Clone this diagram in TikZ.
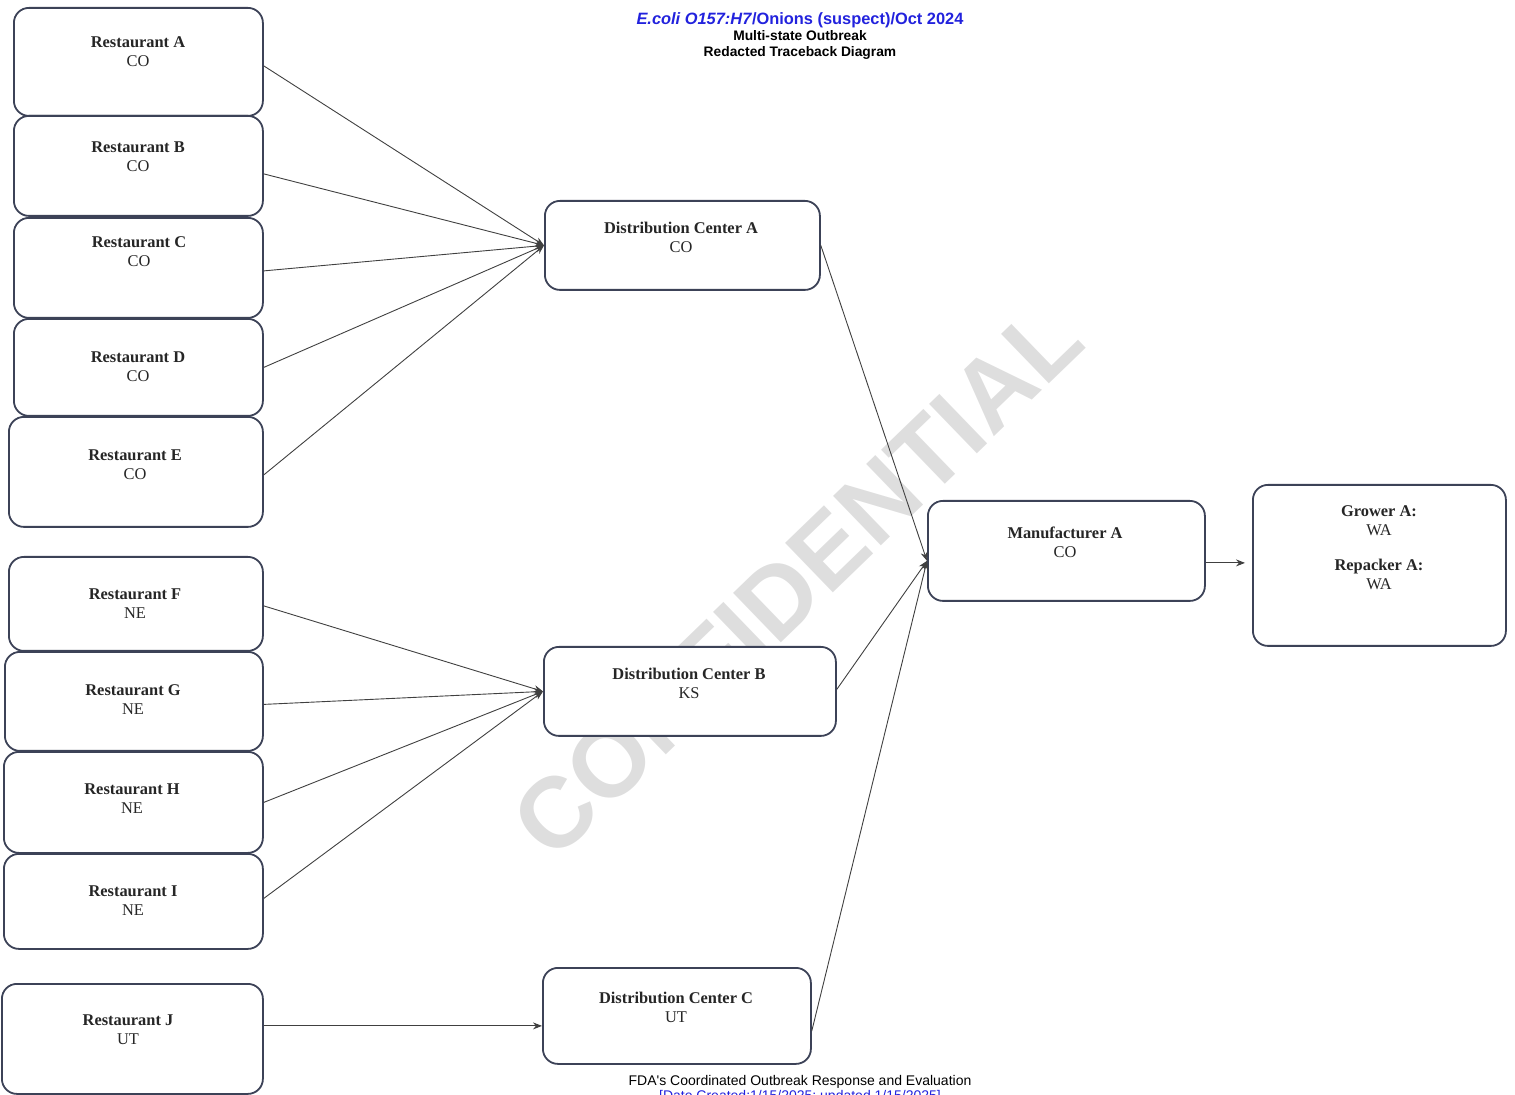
\documentclass[tikz,border=0pt]{standalone}
\usepackage{fontspec}
\setmainfont{Liberation Serif}
\newfontfamily\arialf{Liberation Sans}
\usetikzlibrary{arrows.meta,calc}
\definecolor{boxc}{HTML}{3C4257}
\definecolor{titleblue}{HTML}{2222DD}
\definecolor{wmgray}{HTML}{DEDEDE}
\tikzset{
  box/.style={draw=boxc, line width=0.9pt, rounded corners=7.5pt, fill=white, inner sep=0pt, anchor=north west},
  lbl/.style={font=\fontsize{8.2}{9.5}\selectfont, align=center, anchor=north, inner sep=0pt, text=black!85},
  conn/.style={draw=black!75, line width=0.45pt, -{Stealth[length=4.5pt,width=3.5pt]}},
  hdr/.style={font=\arialf\bfseries\fontsize{8.2}{9}\selectfont, anchor=base, inner sep=0pt},
  ftr/.style={font=\arialf\fontsize{7}{8}\selectfont, anchor=base, inner sep=0pt},
}
\newcommand\bx[6]{\node[box, minimum width={(#4-#2)*0.5pt}, minimum height={(#5-#3)*0.5pt}] (#1) at (#2,#3) {#6};}
\begin{document}
\begin{tikzpicture}[x=0.5pt,y=-0.5pt]
\useasboundingbox (0,0) rectangle (1515,1095);
% watermark
\node[font=\arialf\bfseries\fontsize{50}{50}\selectfont, text=wmgray, rotate=44, inner sep=0pt] (wmk) at (797,580) {CONFIDENTIAL};
% boxes
\bx{rA}{13}{7}{262}{115}{}
\bx{rB}{13}{115}{262}{215}{}
\bx{rC}{13}{217}{262}{317}{}
\bx{rD}{13}{318}{262}{415}{}
\bx{rE}{8}{416}{262}{526}{}
\bx{rF}{8}{556}{262}{650}{}
\bx{rG}{4}{651}{262}{750}{}
\bx{rH}{3}{751}{262}{852}{}
\bx{rI}{3}{853}{262}{948}{}
\bx{rJ}{1}{983}{262}{1093}{}
\bx{dcA}{544}{200}{819}{289}{}
\bx{dcB}{543}{646}{835}{735}{}
\bx{dcC}{542}{967}{810}{1063}{}
\bx{mfr}{927}{500}{1204}{600}{}
\bx{gr}{1252}{484}{1505}{645}{}
% labels
\node[lbl] (tA) at (138,36.5) {\textbf{Restaurant A}\\CO};
\node[lbl] (tB) at (138,141.5) {\textbf{Restaurant B}\\CO};
\node[lbl] (tC) at (139,236.5) {\textbf{Restaurant C}\\CO};
\node[lbl] (tD) at (138,351.5) {\textbf{Restaurant D}\\CO};
\node[lbl] (tE) at (135,449.5) {\textbf{Restaurant E}\\CO};
\node[lbl] (tF) at (135,588.5) {\textbf{Restaurant F}\\NE};
\node[lbl] (tG) at (133,684.5) {\textbf{Restaurant G}\\NE};
\node[lbl] (tH) at (132,783.5) {\textbf{Restaurant H}\\NE};
\node[lbl] (tI) at (133,885.5) {\textbf{Restaurant I}\\NE};
\node[lbl] (tJ) at (128,1014.5) {\textbf{Restaurant J}\\UT};
\node[lbl] (tdA) at (681,221.5) {\textbf{Distribution Center A}\\CO};
\node[lbl] (tdB) at (689,667.5) {\textbf{Distribution Center B}\\KS};
\node[lbl] (tdC) at (676,991.5) {\textbf{Distribution Center C}\\UT};
\node[lbl] (tm) at (1065,526.5) {\textbf{Manufacturer A}\\CO};
\node[lbl] (tg) at (1379,505.5) {\textbf{Grower A:}\\WA\\[8pt]\textbf{Repacker A:}\\WA};
% connectors
\draw[conn] ($(rA.east)+(0,4)$) -- (dcA.west);
\draw[conn] ($(rB.east)+(0,8)$) -- (dcA.west);
\draw[conn] ($(rC.east)+(0,3)$) -- (dcA.west);
\draw[conn] (rD.east) -- (dcA.west);
\draw[conn] ($(rE.east)+(0,3)$) -- (dcA.west);
\draw[conn] ($(rF.east)+(0,2)$) -- (dcB.west);
\draw[conn] ($(rG.east)+(0,3)$) -- (dcB.west);
\draw[conn] (rH.east) -- (dcB.west);
\draw[conn] ($(rI.east)+(0,-3)$) -- (dcB.west);
\draw[conn] ($(rJ.east)+(0,-13)$) -- ($(dcC.west)+(0,10)$);
\draw[conn] (dcA.east) -- ($(mfr.west)+(0,10)$);
\draw[conn] ($(dcB.east)+(0,-2)$) -- ($(mfr.west)+(0,10)$);
\draw[conn] ($(dcC.east)+(0,15)$) -- ($(mfr.west)+(0,10)$);
\draw[conn] ($(mfr.east)+(0,12)$) -- ($(gr.west)+(-7,-2.5)$);
% header and footer
\node[hdr, text=titleblue] (h1) at (800,25) {\textit{E.coli O157:H7}/Onions (suspect)/Oct 2024};
\node[hdr, font=\arialf\bfseries\fontsize{6.9}{8}\selectfont] (h2) at (800,41) {Multi-state Outbreak};
\node[hdr, font=\arialf\bfseries\fontsize{6.9}{8}\selectfont] (h3) at (800,57) {Redacted Traceback Diagram};
\node[ftr] (f1) at (800,1085) {FDA's Coordinated Outbreak Response and Evaluation};
\node[ftr, text=titleblue] (f2) at (800,1100) {[Date Created:1/15/2025; updated 1/15/2025]};
\end{tikzpicture}
\end{document}
